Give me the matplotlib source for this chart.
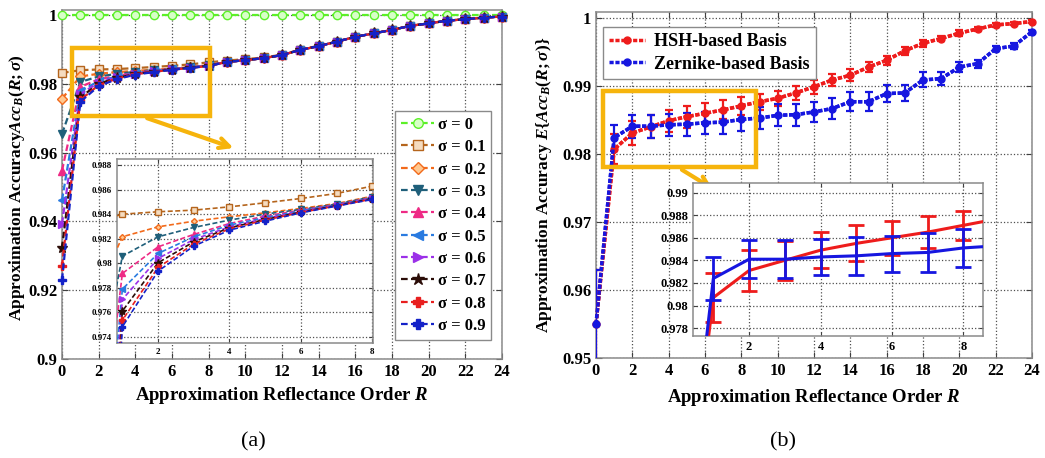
import numpy as np
import matplotlib.pyplot as plt
from matplotlib.patches import Rectangle
from matplotlib.ticker import MultipleLocator, FuncFormatter

plt.rcParams['font.family'] = ['Liberation Serif', 'DejaVu Serif']
plt.rcParams['font.weight'] = 'bold'
plt.rcParams['axes.labelweight'] = 'bold'
plt.rcParams['mathtext.fontset'] = 'custom'
plt.rcParams['mathtext.rm'] = 'Liberation Serif:bold'
plt.rcParams['mathtext.it'] = 'Liberation Serif:italic:bold'
plt.rcParams['mathtext.bf'] = 'Liberation Serif:bold'

# ---------------- dados ----------------
orders = list(range(25))
sigma_labels = ['0', '0.1', '0.2', '0.3', '0.4', '0.5', '0.6', '0.7', '0.8', '0.9']

# parte comum R = 9..24 (as curvas com sigma > 0 praticamente coincidem)
tail_common = [0.9864, 0.9869, 0.9875, 0.9884, 0.9899, 0.9910, 0.9923, 0.9937,
               0.9947, 0.9957, 0.9969, 0.9976, 0.9984, 0.9988, 0.9993, 0.9996]
tail_s01 = [0.9868, 0.9872, 0.9877, 0.9885, 0.9900, 0.9911, 0.9923, 0.9937,
            0.9947, 0.9957, 0.9969, 0.9976, 0.9984, 0.9988, 0.9993, 0.9996]

acc_s00 = [1.0, 1.0, 1.0, 1.0, 1.0, 1.0, 1.0, 1.0, 1.0, 1.0, 1.0, 1.0, 1.0,
           1.0, 1.0, 1.0, 1.0, 1.0, 1.0, 1.0, 1.0, 1.0, 1.0, 1.0, 1.0]
acc_s01 = [0.9832, 0.9840, 0.98420, 0.98433, 0.98460, 0.98493, 0.98528, 0.98569, 0.98629] + tail_s01
acc_s02 = [0.9757, 0.98216, 0.98297, 0.98343, 0.98379, 0.98411, 0.98447, 0.98487, 0.98547] + tail_common
acc_s03 = [0.9655, 0.98058, 0.98216, 0.98292, 0.98352, 0.98401, 0.98439, 0.98482, 0.98542] + tail_common
acc_s04 = [0.9548, 0.97917, 0.98134, 0.98235, 0.98324, 0.98384, 0.98433, 0.98479, 0.98536] + tail_common
acc_s05 = [0.9462, 0.97789, 0.98080, 0.98216, 0.98311, 0.98373, 0.98428, 0.98476, 0.98533] + tail_common
acc_s06 = [0.9393, 0.97705, 0.98039, 0.98194, 0.98297, 0.98365, 0.98422, 0.98473, 0.98530] + tail_common
acc_s07 = [0.9322, 0.97610, 0.98004, 0.98175, 0.98289, 0.98357, 0.98417, 0.98470, 0.98527] + tail_common
acc_s08 = [0.9270, 0.97536, 0.97966, 0.98156, 0.98281, 0.98352, 0.98414, 0.98468, 0.98523] + tail_common
acc_s09 = [0.9230, 0.97482, 0.97936, 0.98140, 0.98270, 0.98343, 0.98411, 0.98466, 0.98520] + tail_common
acc_all = [acc_s00, acc_s01, acc_s02, acc_s03, acc_s04, acc_s05, acc_s06, acc_s07, acc_s08, acc_s09]

hsh_mean = [0.9550, 0.9807, 0.9831, 0.9840, 0.9849, 0.9855, 0.9860, 0.9865, 0.9871,
            0.9877, 0.9882, 0.9890, 0.9899, 0.9909, 0.9916, 0.9928, 0.9938, 0.9952,
            0.9963, 0.9970, 0.9978, 0.9984, 0.9990, 0.9992, 0.9995]
hsh_err = [0.0080, 0.0022, 0.0018, 0.0017, 0.0016, 0.0016, 0.0015, 0.0014, 0.0013,
           0.0012, 0.0011, 0.0010, 0.0010, 0.0009, 0.0009, 0.0008, 0.0007, 0.0006,
           0.0005, 0.0004, 0.0004, 0.0003, 0.0003, 0.0002, 0.0002]
zer_mean = [0.9550, 0.9824, 0.9841, 0.9841, 0.9843, 0.9844, 0.9846, 0.9847, 0.9851,
            0.9853, 0.9857, 0.9858, 0.9862, 0.9867, 0.9877, 0.9877, 0.9889, 0.9890,
            0.9909, 0.9911, 0.9928, 0.9933, 0.9955, 0.9959, 0.9980]
zer_err = [0.0080, 0.0019, 0.0017, 0.0017, 0.0016, 0.0017, 0.0016, 0.0017, 0.0017,
           0.0016, 0.0016, 0.0016, 0.0015, 0.0015, 0.0014, 0.0014, 0.0013, 0.0012,
           0.0011, 0.0010, 0.0007, 0.0006, 0.0004, 0.0004, 0.0003]

# ---------------- estilos ----------------
cores = ['#5cf028', '#b5651d', '#f26a1b', '#1f5f7a', '#ee2a85',
         '#2a7be0', '#9b30e8', '#2b0d08', '#e81f1f', '#1422c8']
faces = ['#d8ffc8', '#f5dcc0', '#ffc890', '#1f5f7a', '#ee2a85',
         '#2a7be0', '#9b30e8', '#2b0d08', '#e81f1f', '#1422c8']
marcas = ['o', 's', 'D', 'v', '^', '<', '>', '*', 'P', 'P']
tam = [6, 6, 5, 6, 6, 6, 6, 8, 6, 6]
amarelo = '#f6b40c'
cinza = '#8a8a8a'
vermelho = '#ee1c1c'
azul = '#1616e0'
W, H = 1045, 458


def caixa(l, t, r, b):
    return [l / W, 1 - b / H, (r - l) / W, (b - t) / H]


def fmt(v, _):
    return f'{v:g}'


def estilo_eixo(ax, tick_fs, tick_len=4):
    ax.grid(True, linestyle=':', color='#505050', linewidth=0.9)
    ax.tick_params(direction='in', length=tick_len, labelsize=tick_fs,
                   top=True, right=True, color='#404040')
    for s in ax.spines.values():
        s.set_color(cinza)
        s.set_linewidth(1.1)
    ax.yaxis.set_major_formatter(FuncFormatter(fmt))
    ax.xaxis.set_major_formatter(FuncFormatter(fmt))


fig = plt.figure(figsize=(10.45, 4.58), dpi=100)

# ================= (a) =================
ax1 = fig.add_axes(caixa(62, 10, 502, 359))
for i in range(len(acc_all)):
    ax1.plot(orders, acc_all[i], linestyle=(0, (3, 1.5)), linewidth=1.6,
             color=cores[i], marker=marcas[i], markersize=tam[i],
             markerfacecolor=faces[i], markeredgecolor=cores[i],
             label='σ = ' + sigma_labels[i], clip_on=False, zorder=3 + i)
ax1.set_xlim(0, 24)
ax1.set_ylim(0.9, 1.0015)
ax1.xaxis.set_major_locator(MultipleLocator(2))
ax1.yaxis.set_major_locator(MultipleLocator(0.02))
estilo_eixo(ax1, 12)
ax1.set_xlabel('Approximation Reflectance Order $R$', fontsize=13.5)
ax1.xaxis.set_label_coords(0.5, -0.075)
ax1.set_ylabel(r'Approximation Accuracy$Acc_B(R;\sigma)$', fontsize=12.5)
ax1.yaxis.set_label_coords(-0.08, 0.49)
leg1 = ax1.legend(loc='upper left', bbox_to_anchor=(395 / W, 1 - 111 / H),
                  bbox_transform=fig.transFigure, fontsize=12, frameon=True,
                  fancybox=False, edgecolor=cinza, framealpha=1, borderaxespad=0,
                  handlelength=2.0, labelspacing=0.38, borderpad=0.35,
                  handletextpad=0.2, markerscale=1.15)
leg1.set_zorder(20)
ax1.add_patch(Rectangle((0.55, 0.9707), 7.5, 0.0198, fill=False,
                        edgecolor=amarelo, linewidth=3.2, zorder=15, clip_on=False))
ax1.annotate('', xy=(9.5, 0.9611), xytext=(4.5, 0.9703),
             arrowprops=dict(arrowstyle='->', color=amarelo, lw=3,
                             mutation_scale=18), zorder=15)
fig.text(253 / W, 1 - 442 / H, '(a)', fontsize=16, fontweight='normal',
         ha='center', va='center')

in1 = fig.add_axes(caixa(117, 159, 373, 343))
for i in range(1, len(acc_all)):
    in1.plot(orders[:10], acc_all[i][:10], linestyle=(0, (3, 1.5)), linewidth=1.2,
             color=cores[i], marker=marcas[i], markersize=tam[i] - 2,
             markerfacecolor=faces[i], markeredgecolor=cores[i], zorder=3 + i)
in1.set_xlim(0.85, 8.02)
in1.set_ylim(0.9735, 0.9885)
in1.xaxis.set_major_locator(MultipleLocator(2))
in1.yaxis.set_major_locator(MultipleLocator(0.002))
estilo_eixo(in1, 6.5, tick_len=3)

# ================= (b) =================
ax2 = fig.add_axes(caixa(596, 12, 1032, 358))
ax2.errorbar(orders, hsh_mean, yerr=hsh_err, color=vermelho, linestyle=(0, (1.2, 0.5)),
             linewidth=2.5, capsize=3, elinewidth=1.6, capthick=1.6, zorder=3)
ax2.errorbar(orders, zer_mean, yerr=zer_err, color=azul, linestyle=(0, (1.2, 0.5)),
             linewidth=2.5, capsize=3, elinewidth=1.6, capthick=1.6, zorder=4)
ax2.plot(orders, hsh_mean, color=vermelho, linestyle=(0, (1.2, 0.5)), linewidth=2.5,
         marker='o', markersize=5, label='HSH-based Basis', clip_on=False, zorder=5)
ax2.plot(orders, zer_mean, color=azul, linestyle=(0, (1.2, 0.5)), linewidth=2.5,
         marker='o', markersize=5, label='Zernike-based Basis', clip_on=False, zorder=6)
ax2.set_xlim(0, 24)
ax2.set_ylim(0.95, 1.0009)
ax2.xaxis.set_major_locator(MultipleLocator(2))
ax2.yaxis.set_major_locator(MultipleLocator(0.01))
estilo_eixo(ax2, 12)
ax2.set_xlabel('Approximation Reflectance Order $R$', fontsize=13.5)
ax2.xaxis.set_label_coords(0.5, -0.085)
ax2.set_ylabel(r'Approximation Accuracy $E\{Acc_B(R;\sigma)\}$', fontsize=12.5)
ax2.yaxis.set_label_coords(-0.096, 0.5)
leg2 = ax2.legend(loc='upper left', bbox_to_anchor=(603 / W, 1 - 27 / H),
                  bbox_transform=fig.transFigure, fontsize=13, frameon=True,
                  fancybox=False, edgecolor=cinza, framealpha=1, borderaxespad=0,
                  handlelength=2.0, labelspacing=0.3, borderpad=0.35,
                  handletextpad=0.5)
leg2.set_zorder(20)
ax2.add_patch(Rectangle((0.37, 0.9781), 8.43, 0.0112, fill=False,
                        edgecolor=amarelo, linewidth=3.2, zorder=15, clip_on=False))
ax2.annotate('', xy=(6.55, 0.9747), xytext=(4.6, 0.9779),
             arrowprops=dict(arrowstyle='->', color=amarelo, lw=3,
                             mutation_scale=18), zorder=15)
fig.text(783 / W, 1 - 442 / H, '(b)', fontsize=16, fontweight='normal',
         ha='center', va='center')

in2 = fig.add_axes(caixa(693, 183, 983, 336))
in2.errorbar(orders[:10], hsh_mean[:10], yerr=hsh_err[:10], color=vermelho,
             linewidth=2.2, capsize=6, elinewidth=2, capthick=2, zorder=3)
in2.errorbar(orders[:10], zer_mean[:10], yerr=zer_err[:10], color=azul,
             linewidth=2.2, capsize=6, elinewidth=2, capthick=2, zorder=4)
in2.set_xlim(0.43, 8.55)
in2.set_ylim(0.9773, 0.99085)
in2.xaxis.set_major_locator(MultipleLocator(2))
in2.yaxis.set_major_locator(MultipleLocator(0.002))
estilo_eixo(in2, 9, tick_len=3)

fig.savefig('out.png', dpi=100)
